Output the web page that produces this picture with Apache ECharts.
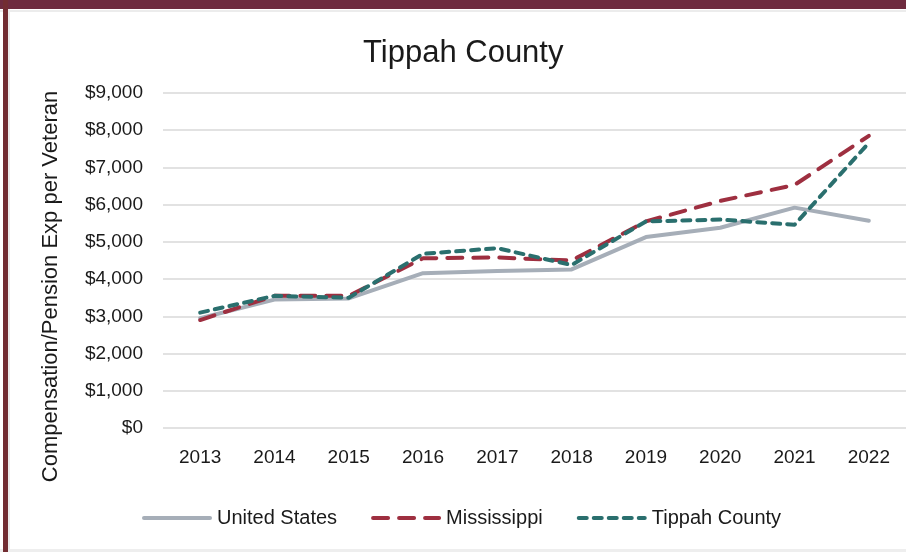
<!DOCTYPE html>
<html>
<head>
<meta charset="utf-8">
<script src="https://cdn.jsdelivr.net/npm/echarts@6/dist/echarts.min.js"></script>
<style>
html,body{margin:0;padding:0;background:#fff;}
#c{width:906px;height:552px;}
</style>
</head>
<body>
<div id="c"></div>
<script>
const years = ['2013','2014','2015','2016','2017','2018','2019','2020','2021','2022'];
const unitedStates = [2950, 3450, 3480, 4160, 4220, 4260, 5130, 5380, 5920, 5570];
const mississippi = [2900, 3550, 3550, 4560, 4580, 4500, 5550, 6100, 6530, 7850];
const tippahCounty = [3100, 3550, 3500, 4680, 4830, 4380, 5550, 5600, 5460, 7660];
const yTicks = [0, 1000, 2000, 3000, 4000, 5000, 6000, 7000, 8000, 9000];

const FONT = '"Liberation Sans", Arial, sans-serif';
const chart = echarts.init(document.getElementById('c'), null, {renderer: 'canvas'});
chart.setOption({
  backgroundColor: '#ffffff',
  animation: false,
  graphic: [
    {type: 'rect', shape: {x: 0, y: 10, width: 906, height: 2}, style: {fill: '#ececec'}, silent: true},
    {type: 'rect', shape: {x: 8, y: 0, width: 2, height: 552}, style: {fill: '#ececec'}, silent: true},
    {type: 'rect', shape: {x: 0, y: 549, width: 906, height: 3}, style: {fill: '#eeeeee'}, silent: true},
    {type: 'rect', shape: {x: 0, y: 0, width: 906, height: 9}, style: {fill: '#6e2b3f'}, silent: true},
    {type: 'rect', shape: {x: 3, y: 0, width: 5, height: 552}, style: {fill: '#722d32'}, silent: true}
  ],
  title: {
    text: 'Tippah County',
    left: 358,
    top: 33,
    textStyle: {fontFamily: FONT, fontSize: 31, fontWeight: 'normal', color: '#1a1a1a'}
  },
  legend: {
    left: 137,
    top: 503,
    itemWidth: 66,
    itemHeight: 14,
    itemGap: 34,
    itemStyle: {opacity: 0},
    lineStyle: {width: 4},
    textStyle: {fontFamily: FONT, fontSize: 20, color: '#1a1a1a', padding: [0, 0, 0, 2]},
    data: ['United States', 'Mississippi', 'Tippah County']
  },
  grid: {left: 163, right: 0, top: 93, bottom: 124, containLabel: false},
  xAxis: {
    type: 'category',
    data: years,
    boundaryGap: true,
    axisLine: {show: false},
    axisTick: {show: false},
    axisLabel: {fontFamily: FONT, fontSize: 19, color: '#1a1a1a', margin: 20}
  },
  yAxis: {
    type: 'value',
    min: yTicks[0],
    max: yTicks[yTicks.length - 1],
    interval: 1000,
    name: 'Compensation/Pension Exp per Veteran',
    nameLocation: 'middle',
    nameGap: 101,
    nameTextStyle: {fontFamily: FONT, fontSize: 22, color: '#1a1a1a', padding: [0, 52, 0, 0]},
    axisLine: {show: false},
    axisTick: {show: false},
    splitLine: {lineStyle: {color: '#d9d9d9', width: 1.5}},
    axisLabel: {
      fontFamily: FONT, fontSize: 19, color: '#1a1a1a', margin: 20,
      formatter: v => '$' + v.toLocaleString('en-US')
    }
  },
  series: [
    {
      name: 'United States', type: 'line', data: unitedStates, symbol: 'none',
      lineStyle: {color: '#a6aeb8', width: 4, cap: 'round', join: 'round'},
      itemStyle: {color: '#a6aeb8'}
    },
    {
      name: 'Mississippi', type: 'line', data: mississippi, symbol: 'none',
      lineStyle: {color: '#9e2f40', width: 4, type: [15, 11], cap: 'round', join: 'round'},
      itemStyle: {color: '#9e2f40'}
    },
    {
      name: 'Tippah County', type: 'line', data: tippahCounty, symbol: 'none',
      lineStyle: {color: '#2a6f6e', width: 4, type: [8, 7], cap: 'round', join: 'round'},
      itemStyle: {color: '#2a6f6e'}
    }
  ]
});
</script>
</body>
</html>
